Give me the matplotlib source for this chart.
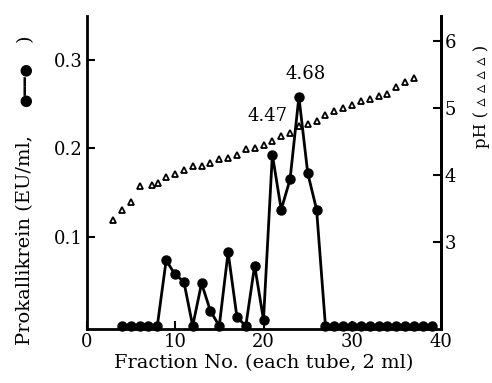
import matplotlib
matplotlib.use("Agg")
import matplotlib.pyplot as plt

# Prokallikrein activity per fraction (EU/ml)
fractions = [4, 5, 6, 7, 8, 9, 10, 11, 12, 13, 14, 15, 16, 17, 18, 19, 20, 21,
             22, 23, 24, 25, 26, 27, 28, 29, 30, 31, 32, 33, 34, 35, 36, 37, 38, 39]
prokallikrein = [0, 0, 0, 0, 0, 0.074, 0.058, 0.050, 0, 0.048, 0.017, 0, 0.083,
                 0.010, 0, 0.068, 0.007, 0.193, 0.131, 0.165, 0.258, 0.172, 0.131,
                 0, 0, 0, 0, 0, 0, 0, 0, 0, 0, 0, 0, 0]

# pH gradient
ph_fractions = [3, 4, 5, 6, 7.4, 8.1, 9, 10, 11, 12, 13, 14, 15, 16, 17, 18, 19,
                20, 21, 22, 23, 24, 25, 26, 27, 28, 29, 30, 31, 32, 33, 34, 35, 36, 37]
ph_values = [3.33, 3.48, 3.60, 3.83, 3.85, 3.88, 3.97, 4.01, 4.07, 4.13, 4.13,
             4.18, 4.23, 4.25, 4.30, 4.38, 4.40, 4.45, 4.50, 4.58, 4.62, 4.73,
             4.76, 4.81, 4.89, 4.96, 5.00, 5.04, 5.10, 5.13, 5.18, 5.21, 5.31,
             5.39, 5.44]

# peak annotations (label, fraction, activity)
peak_labels = ["4.47", "4.68"]
peak_x = [20.5, 24.75]
peak_y = [0.236, 0.284]

serif = ['DejaVu Serif', 'DejaVu Sans']
plt.rcParams['font.family'] = serif

fig = plt.figure(figsize=(4.92, 3.83), dpi=100)
ax = fig.add_axes([86.5 / 492, 54 / 383, 354 / 492, 313 / 383])
ax2 = ax.twinx()

# activity line
ax.plot(fractions, prokallikrein, color='black', lw=2, marker='o',
        markersize=6.5, zorder=3, clip_on=False)

# pH triangles
ax2.plot(ph_fractions, ph_values, linestyle='none', marker='^', markersize=4,
         markerfacecolor='white', markeredgecolor='black', markeredgewidth=1.3)

for lab, x, y in zip(peak_labels, peak_x, peak_y):
    ax.text(x, y, lab, ha='center', va='center', fontsize=13)

ax.set_xlim(0, 40)
ax.set_ylim(-0.0034, 0.349)
ax2.set_ylim(1.70, 6.37)

ax.set_xticks([0, 10, 20, 30, 40])
ax.set_yticks([0.1, 0.2, 0.3])
ax2.set_yticks([3, 4, 5, 6])

for a in (ax, ax2):
    a.spines['top'].set_visible(False)
    for s in a.spines.values():
        s.set_linewidth(2)
    a.tick_params(direction='in', length=6, width=1.5, labelsize=13, pad=3)
ax2.spines['left'].set_visible(False)
ax2.spines['bottom'].set_visible(False)

# axis labels
ax.set_xlabel("Fraction No. (each tube, 2 ml)", fontsize=14, labelpad=2)
fig.text(25 / 492, 1 - 240 / 383, "Prokallikrein (EU/ml,", rotation=90,
         ha='center', va='center', fontsize=14)
fig.text(26 / 492, 1 - 85 / 383, "●━━●", rotation=90,
         ha='center', va='center', fontsize=11)
fig.text(25 / 492, 1 - 38 / 383, ")", rotation=90,
         ha='center', va='center', fontsize=14)

fig.text(482 / 492, 1 - 96 / 383, "pH ( ▵ ▵ ▵ ▵ )", rotation=90,
         ha='center', va='center', fontsize=12)

fig.savefig("out.png", dpi=100)
